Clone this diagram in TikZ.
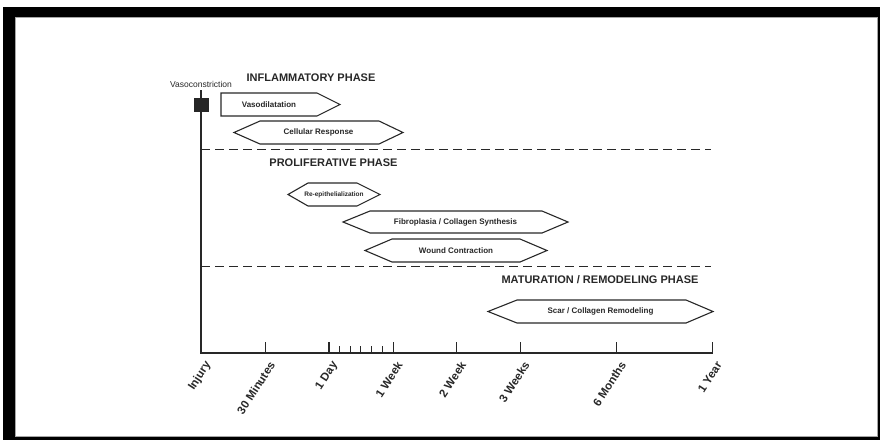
\documentclass[tikz,border=0pt]{standalone}
\usepackage{fontspec}
\setmainfont{Liberation Sans}
\usepackage{tikz}
\usetikzlibrary{calc}

\definecolor{inkgray}{RGB}{40,40,40}
\tikzset{
    phasebar/.style={draw=inkgray, line width=1.1pt, fill=white},
    bartext/.style={text=inkgray, font=\bfseries\fontsize{8}{9}\selectfont, inner sep=1pt},
    phasetitle/.style={text=inkgray, font=\bfseries\fontsize{11}{12}\selectfont, inner sep=0pt},
    timelabel/.style={text=inkgray, font=\bfseries\fontsize{11.5}{12}\selectfont, rotate=57, anchor=east, inner sep=1pt},
    phasesep/.style={draw=inkgray, line width=1.3pt, dash pattern=on 9pt off 5pt}
}

\begin{document}
\begin{tikzpicture}[x=1pt,y=-1pt]
    \useasboundingbox (0,0) rectangle (880,440);
    % frame
    \fill[black] (3,7) rectangle (880,440);
    \draw[fill=white, draw=gray!70, line width=0.6pt] (15.5,17.5) rectangle (877,436);

    % axes
    \draw[inkgray, line width=1.4pt] (201,90) -- (201,353) -- (713,353);
    \fill[black!85] (194,98) rectangle (209,112);
    \node[text=inkgray, font=\fontsize{8.5}{9}\selectfont, inner sep=0pt] (vasocon) at (201,84) {Vasoconstriction};

    % time scale
    \node[timelabel] (injury) at (209,362) {Injury};
    \foreach \x/\lab [count=\i] in {265.7/30 Minutes,329/1 Day,393.3/1 Week,456.7/2 Week,
                                    520.3/3 Weeks,616.7/6 Months,712.7/1 Year}
    {
        \draw[inkgray, line width=1.1pt] (\x,353) -- (\x,342);
        \node[timelabel] (time\i) at (\x+7,362) {\lab};
    }
    \foreach \x in {339.3,350,360.7,371.7,382.3}
        \draw[inkgray, line width=1pt] (\x,353) -- (\x,345.5);

    % phase separators
    \draw[phasesep] (201,149.5) -- (711,149.5);
    \draw[phasesep] (201,266.7) -- (711,266.7);

    % inflammatory phase
    \node[phasetitle] (inflam) at (311,78) {INFLAMMATORY PHASE};
    \draw[phasebar] (221,93) -- (317,93) -- (340,104.5) -- (317,116) -- (221,116) -- cycle;
    \node[bartext] (vasodil) at (269,104.5) {Vasodilatation};
    \draw[phasebar] (234,132.5) -- (260,121) -- (379,121) -- (403,132.5) -- (379,144) -- (260,144) -- cycle;
    \node[bartext] (cellular) at (318.5,132.5) {Cellular Response};

    % proliferative phase
    \node[phasetitle] (prolif) at (333.5,163) {PROLIFERATIVE PHASE};
    \draw[phasebar] (288,194.5) -- (308,183) -- (357,183) -- (380,194.5) -- (357,206) -- (308,206) -- cycle;
    \node[bartext, font=\bfseries\fontsize{6.5}{7}\selectfont] (reepi) at (334,194.5) {Re-epithelialization};
    \draw[phasebar] (343,222) -- (370,211) -- (542,211) -- (568,222) -- (542,233) -- (370,233) -- cycle;
    \node[bartext] (fibro) at (455.5,222) {Fibroplasia / Collagen Synthesis};
    \draw[phasebar] (365,250.5) -- (392,239) -- (520,239) -- (547,250.5) -- (520,262) -- (392,262) -- cycle;
    \node[bartext] (wound) at (456,250.5) {Wound Contraction};

    % maturation phase
    \node[phasetitle] (matur) at (600,280) {MATURATION / REMODELING PHASE};
    \draw[phasebar] (488,311.5) -- (517,300) -- (686,300) -- (713,311.5) -- (686,323) -- (517,323) -- cycle;
    \node[bartext] (scar) at (600.5,311.5) {Scar / Collagen Remodeling};
\end{tikzpicture}
\end{document}
